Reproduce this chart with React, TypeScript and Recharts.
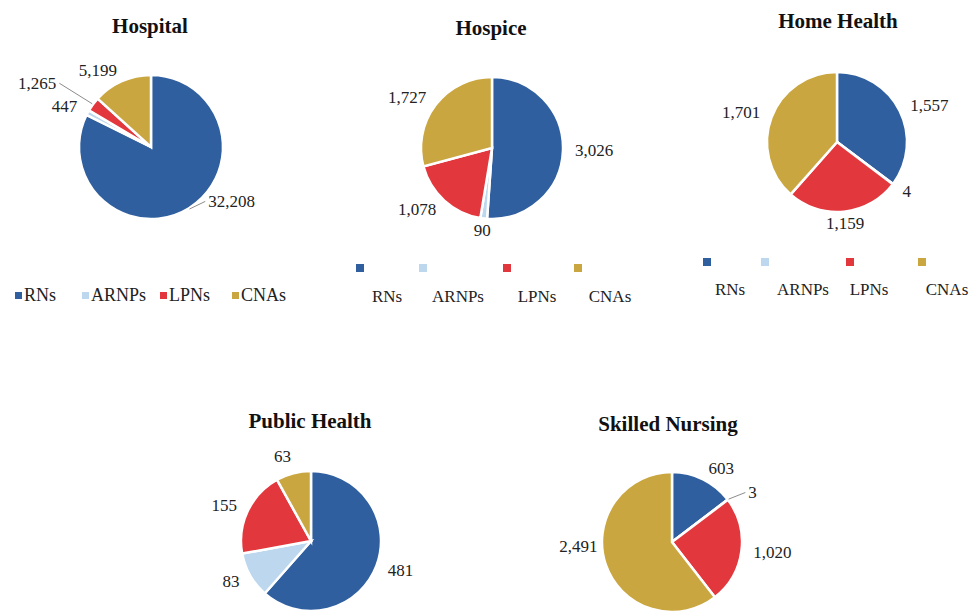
import { PieChart, Pie, Cell } from 'recharts'

const CATEGORIES = ['RNs', 'ARNPs', 'LPNs', 'CNAs']
const COLORS = ['#2F5F9E', '#BDD7EE', '#E2373C', '#C9A640']

const HOSPITAL = [32208, 447, 1265, 5199]
const HOSPICE = [3026, 90, 1078, 1727]
const HOME_HEALTH = [1557, 4, 1159, 1701]
const PUBLIC_HEALTH = [481, 83, 155, 63]
const SKILLED_NURSING = [603, 3, 1020, 2491]

const FONT = '"Liberation Serif", "Times New Roman", serif'
const RAD = Math.PI / 180

type Nudge = Record<number, [number, number]>

// layout of each small pie on the page
const PANELS = [
  { title: 'Hospital', values: HOSPITAL, cx: 151, cy: 147, r: 72, tx: 150, ty: 26, nudge: { 0: [13, -17], 2: [-27, -14] } as Nudge, lines: [0, 2] },
  { title: 'Hospice', values: HOSPICE, cx: 492, cy: 148, r: 71, tx: 491, ty: 28, nudge: {} as Nudge, lines: [] },
  { title: 'Home Health', values: HOME_HEALTH, cx: 837, cy: 142, r: 70, tx: 838, ty: 21, nudge: {} as Nudge, lines: [] },
  { title: 'Public Health', values: PUBLIC_HEALTH, cx: 311, cy: 541, r: 70, tx: 310, ty: 421, nudge: { 3: [-8, -5] } as Nudge, lines: [] },
  { title: 'Skilled Nursing', values: SKILLED_NURSING, cx: 672, cy: 542, r: 70, tx: 668, ty: 424, nudge: { 1: [11, 0], 3: [3, -22] } as Nudge, lines: [1] },
]

const makeLabel = (nudge: Nudge, lines: number[]) => (p: any) => {
  const { cx, cy, midAngle, outerRadius, value, index } = p
  const cos = Math.cos(-midAngle * RAD)
  const sin = Math.sin(-midAngle * RAD)
  let x = cx + (outerRadius + 12) * cos
  let y = cy + (outerRadius + 12) * sin
  const anchor = Math.abs(cos) < 0.3 ? 'middle' : cos > 0 ? 'start' : 'end'
  const n = nudge[index]
  if (n) { x += n[0]; y += n[1] }
  const ex = cx + (outerRadius + 1) * cos
  const ey = cy + (outerRadius + 1) * sin
  const lx = anchor === 'end' ? x + 3 : x - 3
  return (
    <g key={`lbl-${index}`}>
      {lines.includes(index) && <polyline points={`${ex},${ey} ${lx},${y}`} fill="none" stroke="#8c8c8c" strokeWidth={1} />}
      <text x={x} y={y} textAnchor={anchor} dominantBaseline="central"
        fontFamily={FONT} fontSize={17} fill="#222">
        {Number(value).toLocaleString('en-US')}
      </text>
    </g>
  )
}

function InlineLegend({ left, top, xs }: { left: number; top: number; xs: number[] }) {
  return (
    <>
      {CATEGORIES.map((c, i) => (
        <div key={c} style={{ position: 'absolute', left: left + xs[i], top, display: 'flex', alignItems: 'center', fontSize: 18, lineHeight: '20px', color: '#222' }}>
          <span style={{ width: 7, height: 7, background: COLORS[i], marginRight: 2, display: 'inline-block' }} />
          {c}
        </div>
      ))}
    </>
  )
}

function StackedLegend({ markerY, textY, markers, labels }: { markerY: number; textY: number; markers: number[]; labels: number[] }) {
  return (
    <>
      {CATEGORIES.map((c, i) => (
        <div key={c}>
          <span style={{ position: 'absolute', left: markers[i] - 4, top: markerY - 4, width: 8, height: 8, background: COLORS[i] }} />
          <div style={{ position: 'absolute', left: labels[i] - 40, width: 80, top: textY - 10, textAlign: 'center', fontSize: 17, lineHeight: '20px', color: '#222' }}>{c}</div>
        </div>
      ))}
    </>
  )
}

export default function App() {
  return (
    <div style={{ position: 'absolute', left: 0, top: 0, width: 980, height: 611, background: '#fff', fontFamily: FONT, overflow: 'hidden' }}>
      <PieChart width={980} height={611} margin={{ top: 0, right: 0, bottom: 0, left: 0 }} style={{ position: 'absolute', left: 0, top: 0 }}>
        {PANELS.map((pn) => (
          <Pie
            key={pn.title}
            data={CATEGORIES.map((name, i) => ({ name, value: pn.values[i] }))}
            dataKey="value"
            nameKey="name"
            cx={pn.cx}
            cy={pn.cy}
            outerRadius={pn.r}
            startAngle={90}
            endAngle={-270}
            stroke="#fff"
            strokeWidth={2.5}
            label={makeLabel(pn.nudge, pn.lines)}
            labelLine={false}
            isAnimationActive={false}
          >
            {CATEGORIES.map((c, i) => <Cell key={c} fill={COLORS[i]} />)}
          </Pie>
        ))}
      </PieChart>

      {PANELS.map((pn) => (
        <div key={pn.title} style={{ position: 'absolute', left: pn.tx - 110, width: 220, top: pn.ty - 12, textAlign: 'center', fontWeight: 'bold', fontSize: 21, lineHeight: '24px', color: '#111' }}>
          {pn.title}
        </div>
      ))}

      <InlineLegend left={0} top={285} xs={[15, 82, 160, 232]} />
      <StackedLegend markerY={268} textY={297} markers={[360, 423, 507, 578]} labels={[387, 458, 537, 610]} />
      <StackedLegend markerY={262} textY={290} markers={[707, 765, 850, 922]} labels={[730, 803, 869, 947]} />
    </div>
  )
}
